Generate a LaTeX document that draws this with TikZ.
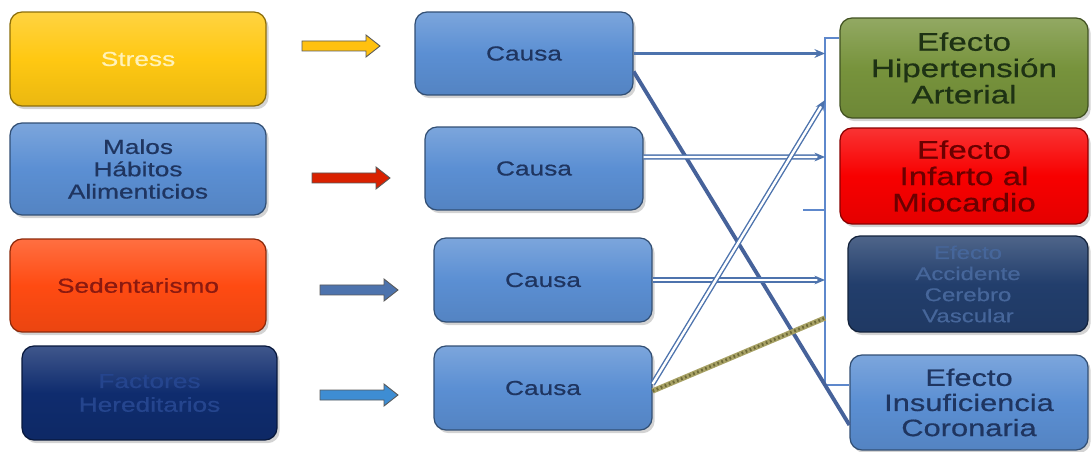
\documentclass[tikz,border=0pt]{standalone}
\usepackage{fontspec}
\setmainfont{Liberation Sans}
\newfontfamily\wf[FakeStretch=1.3,FakeBold=0.6]{Liberation Sans}
\usetikzlibrary{shadows,arrows.meta,calc}
\definecolor{gold}{HTML}{FFC812}
\definecolor{goldtx}{HTML}{FFF2B8}
\definecolor{midblue}{HTML}{5B8FD3}
\definecolor{navytx}{HTML}{1F3560}
\definecolor{orred}{HTML}{FF4B12}
\definecolor{sedtx}{HTML}{8B1A10}
\definecolor{deepnavy}{HTML}{0F2C6E}
\definecolor{facttx}{HTML}{25458E}
\definecolor{olivegr}{HTML}{77933C}
\definecolor{hiptx}{HTML}{1E3214}
\definecolor{pured}{HTML}{F80000}
\definecolor{inftx}{HTML}{6B0000}
\definecolor{accnavy}{HTML}{223E6C}
\definecolor{acctx}{HTML}{46669A}
\definecolor{lineblue}{HTML}{4D73AD}
\definecolor{spine}{HTML}{5E88CC}
\definecolor{darkline}{HTML}{46629A}
\definecolor{khaki}{HTML}{A8A266}
\definecolor{khakid}{HTML}{6E6A38}
\begin{document}
\begin{tikzpicture}[x=0.02cm,y=-0.02cm,
  box/.style={rounded corners=0.24cm, top color=#1!80!white, bottom color=#1!92!black, middle color=#1,
    draw=#1!55!black, line width=0.7pt,
    drop shadow={opacity=0.35,shadow xshift=1.5pt,shadow yshift=-1.8pt},
    align=center, inner sep=0pt},
  conn/.style={draw=lineblue, line width=1.6pt, -{Stealth[length=6pt,width=5pt]}},
  dbl/.style={draw=lineblue, line width=0.8pt, double=white, double distance=1.4pt, -{Stealth[length=6pt,width=5pt]}},
  blk/.style={draw=gray!70!black, line width=0.5pt, fill=#1},
]
\useasboundingbox (0,0) rectangle (1091,452);
% left column
\node[box=gold, minimum width=5.12cm, minimum height=1.88cm, text=goldtx,
  font={\wf\fontsize{11.5}{12.5}\selectfont}] (stress) at (138,59) {Stress};
\node[box=midblue, minimum width=5.12cm, minimum height=1.84cm, text=navytx,
  font={\wf\fontsize{11.5}{12.7}\selectfont}] (malos) at (138,169) {Malos\\Hábitos\\Alimenticios};
\node[box=orred, minimum width=5.12cm, minimum height=1.86cm, text=sedtx,
  font={\wf\fontsize{11.5}{12.5}\selectfont}] (sed) at (138,285.5) {Sedentarismo};
\node[box=deepnavy, minimum width=5.1cm, minimum height=1.88cm, text=facttx,
  font={\wf\fontsize{11.5}{13.5}\selectfont}] (fact) at (149.5,393) {Factores\\Hereditarios};
% causa column
\node[box=midblue, minimum width=4.36cm, minimum height=1.66cm, text=navytx,
  font={\wf\fontsize{11.5}{12.5}\selectfont}] (c1) at (524,53.5) {Causa};
\node[box=midblue, minimum width=4.36cm, minimum height=1.66cm, text=navytx,
  font={\wf\fontsize{11.5}{12.5}\selectfont}] (c2) at (534,168.5) {Causa};
\node[box=midblue, minimum width=4.36cm, minimum height=1.68cm, text=navytx,
  font={\wf\fontsize{11.5}{12.5}\selectfont}] (c3) at (543,280) {Causa};
\node[box=midblue, minimum width=4.36cm, minimum height=1.68cm, text=navytx,
  font={\wf\fontsize{11.5}{12.5}\selectfont}] (c4) at (543,388) {Causa};
% effects column
\node[box=olivegr, minimum width=4.96cm, minimum height=2.0cm, text=hiptx,
  font={\wf\fontsize{14.5}{15}\selectfont}] (hip) at (964,68) {Efecto\\Hipertensión\\Arterial};
\node[box=pured, minimum width=4.96cm, minimum height=1.92cm, text=inftx,
  font={\wf\fontsize{14.5}{15}\selectfont}] (inf) at (964,176) {Efecto\\Infarto al\\Miocardio};
\node[box=accnavy, minimum width=4.8cm, minimum height=1.92cm, text=acctx,
  font={\wf\fontsize{10.5}{12}\selectfont}] (acc) at (968,284) {Efecto\\Accidente\\Cerebro\\Vascular};
\node[box=midblue, minimum width=4.76cm, minimum height=1.9cm, text=navytx,
  font={\wf\fontsize{13.5}{14.3}\selectfont}] (ins) at (969,402.5) {Efecto\\Insuficiencia\\Coronaria};
% block arrows
\foreach \x/\y/\c in {302/46/{gold!90!orange}, 312/178/{red!70!orange!85!black}, 320/290/{lineblue}, 320/395/{cyan!60!blue!80!white}}{
  \path[blk=\c] (\x,\y-5) -- ++(64,0) -- ++(0,-6) -- ++(14,11) -- ++(-14,11) -- ++(0,-6) -- ++(-64,0) -- cycle;
}
% spine
\coordinate (top) at (825,38);
\coordinate (bot) at (825,385);
\draw[spine, line width=1.5pt] (hip.west |- top) -- (top) -- (bot) -- (ins.west |- bot);
\coordinate (s1) at (803,210);
\coordinate (s1e) at (825,210);
\draw[spine, line width=1.5pt] (s1) -- (s1e);
\coordinate (v1) at (825,53.5);
\coordinate (v2) at (825,100);
\coordinate (v3) at (825,157);
\coordinate (v4) at (825,280);
\coordinate (v5) at (825,318);
% connectors
\draw[conn] (c1.east) -- (v1);
\draw[draw=darkline, line width=2.2pt] ([yshift=-0.36cm]c1.east) -- ([yshift=-0.45cm]ins.west);
\draw[dbl] ([yshift=0.23cm]c2.east) -- (v3);
\draw[dbl] (c3.east) -- (v4);
\draw[dbl] ([yshift=0.08cm]c4.east) -- (v2);
\draw[draw=khaki, line width=3pt] ([yshift=-0.06cm]c4.east) -- (v5);
\draw[draw=khakid, line width=1.6pt, dash pattern=on 1pt off 1.5pt] ([yshift=-0.06cm]c4.east) -- (v5);
\end{tikzpicture}
\end{document}
